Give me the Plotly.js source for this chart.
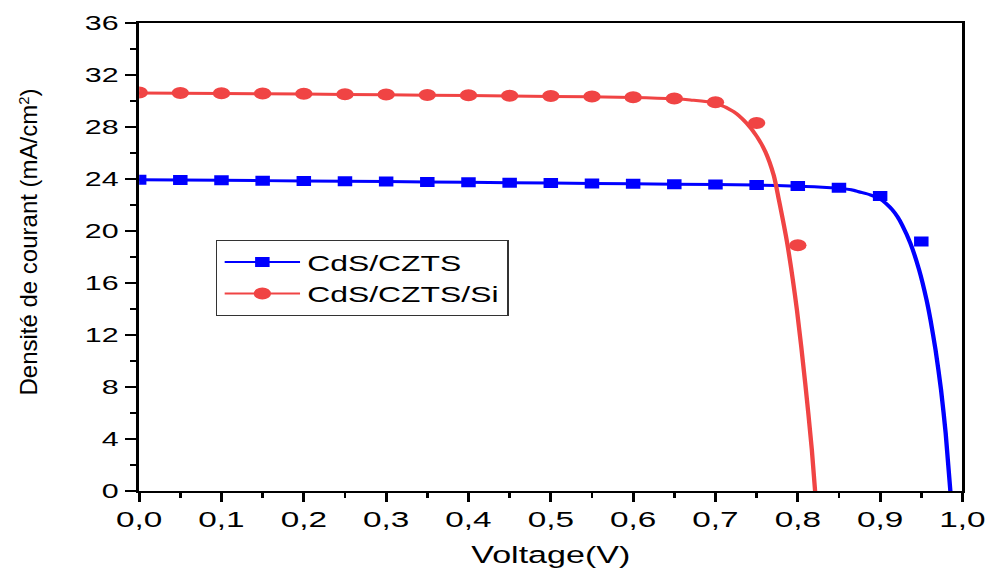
<!DOCTYPE html>
<html><head><meta charset="utf-8">
<script src="https://cdn.plot.ly/plotly-3.0.1.min.js"></script>
<style>
html,body{margin:0;padding:0;background:#fff;overflow:hidden;}
#wrap{position:relative;width:990px;height:572px;}
#plot{position:absolute;left:0;top:0;width:683px;height:572px;transform:scaleX(1.4495);transform-origin:0 0;}
#ytitle{position:absolute;left:28.5px;top:242px;transform:translate(-50%,-50%) rotate(-90deg);white-space:nowrap;font-family:"Liberation Sans",Arial,sans-serif;font-size:24px;line-height:1;color:#000;}
#ytitle sup{font-size:0.62em;vertical-align:0.55em;line-height:0;}
</style></head><body>
<div id="wrap"><div id="plot"></div><div id="ytitle">Densité de courant (mA/cm<sup>2</sup>)</div></div>
<script>
// Measured points (markers)
const voltageCZTS = [0, 0.05, 0.1, 0.15, 0.2, 0.25, 0.3, 0.35, 0.4, 0.45, 0.5, 0.55, 0.6, 0.65, 0.7, 0.75, 0.8, 0.85, 0.9, 0.95];
const currentCZTS = [23.95, 23.92, 23.9, 23.87, 23.85, 23.82, 23.8, 23.77, 23.75, 23.72, 23.69, 23.66, 23.63, 23.6, 23.57, 23.54, 23.46, 23.33, 22.7, 19.2];
const voltageCZTSSi = [0, 0.05, 0.1, 0.15, 0.2, 0.25, 0.3, 0.35, 0.4, 0.45, 0.5, 0.55, 0.6, 0.65, 0.7, 0.75, 0.8];
const currentCZTSSi = [30.65, 30.62, 30.6, 30.58, 30.55, 30.52, 30.5, 30.47, 30.44, 30.41, 30.38, 30.34, 30.29, 30.2, 29.9, 28.3, 18.9];

// Fitted curves
const fitVoltageCZTS = [0, 0.1, 0.2, 0.3, 0.4, 0.5, 0.6, 0.7, 0.75, 0.8, 0.82, 0.84, 0.852, 0.865, 0.875, 0.888, 0.9, 0.9075, 0.9145, 0.921, 0.9267, 0.9368, 0.9474, 0.9564, 0.9612, 0.9673, 0.974, 0.9796, 0.9853];
const fitCurrentCZTS = [23.95, 23.9, 23.85, 23.8, 23.75, 23.69, 23.63, 23.57, 23.53, 23.45, 23.4, 23.33, 23.28, 23.17, 23.0, 22.78, 22.45, 22.1, 21.65, 21.1, 20.46, 19.05, 17.0, 14.69, 13.15, 10.85, 7.77, 4.46, 0];
const fitVoltageCZTSSi = [0, 0.1, 0.2, 0.3, 0.4, 0.5, 0.6, 0.65, 0.6695, 0.7, 0.722, 0.738, 0.7505, 0.7606, 0.7707, 0.777, 0.787, 0.799, 0.809, 0.817, 0.821];
const fitCurrentCZTSSi = [30.62, 30.58, 30.53, 30.48, 30.42, 30.35, 30.27, 30.17, 30.08, 29.82, 29.18, 28.28, 27.25, 26.1, 24.3, 22.4, 19.1, 13.9, 8.3, 3.2, 0];

const seriesNames = ['CdS/CZTS', 'CdS/CZTS/Si'];
const blue = '#0000FF';
const red = '#F04444';

const traces = [
  {x: fitVoltageCZTS, y: fitCurrentCZTS, mode: 'lines', line: {color: blue, width: 3, shape: 'spline', smoothing: 0.6}, showlegend: false, hoverinfo: 'skip'},
  {x: fitVoltageCZTSSi, y: fitCurrentCZTSSi, mode: 'lines', line: {color: red, width: 3, shape: 'spline', smoothing: 0.8}, showlegend: false, hoverinfo: 'skip'},
  {x: voltageCZTS, y: currentCZTS, mode: 'markers', marker: {symbol: 'square', size: 10, color: blue}, showlegend: false},
  {x: voltageCZTSSi, y: currentCZTSSi, mode: 'markers', marker: {symbol: 'circle', size: 12, color: red}, showlegend: false},
  {x: [null], y: [null], name: seriesNames[0], mode: 'lines+markers', line: {color: blue, width: 2}, marker: {symbol: 'square', size: 10, color: blue}},
  {x: [null], y: [null], name: seriesNames[1], mode: 'lines+markers', line: {color: red, width: 2}, marker: {symbol: 'circle', size: 12, color: red}}
];

const font = 'Liberation Sans, Arial, sans-serif';
const layout = {
  width: 683, height: 572,
  margin: {l: 96, r: 19, t: 23, b: 81},
  paper_bgcolor: '#fff', plot_bgcolor: '#fff',
  separators: ', ',
  font: {family: font, color: '#000'},
  showlegend: true,
  legend: {
    x: 0.0933, y: 0.536, xanchor: 'left', yanchor: 'top',
    bordercolor: '#333', borderwidth: 1, bgcolor: '#fff',
    font: {family: font, size: 22, color: '#000'},
    itemwidth: 52, tracegroupgap: 0
  },
  xaxis: {
    range: [0, 1], dtick: 0.1, tick0: 0, tickformat: '.1f',
    ticks: 'outside', ticklen: 9, tickwidth: 2, tickcolor: '#000',
    minor: {dtick: 0.05, ticks: 'outside', ticklen: 5, tickwidth: 2, tickcolor: '#000'},
    showline: true, linewidth: 2, linecolor: '#000', mirror: true,
    showgrid: false, zeroline: false,
    ticklabelstandoff: -3,
    tickfont: {family: font, size: 23, color: '#000'},
    title: {text: 'Voltage(V)', font: {family: font, size: 23.5, color: '#000'}, standoff: 16}
  },
  yaxis: {
    range: [0, 36], dtick: 4, tick0: 0,
    ticks: 'outside', ticklen: 8, tickwidth: 2, tickcolor: '#000',
    minor: {dtick: 2, ticks: 'outside', ticklen: 4, tickwidth: 2, tickcolor: '#000'},
    showline: true, linewidth: 2, linecolor: '#000', mirror: true,
    showgrid: false, zeroline: false,
    tickfont: {family: font, size: 21, color: '#000'},
    title: {text: ''}
  }
};

Plotly.newPlot('plot', traces, layout, {displayModeBar: false, staticPlot: true});
</script>
</body></html>
